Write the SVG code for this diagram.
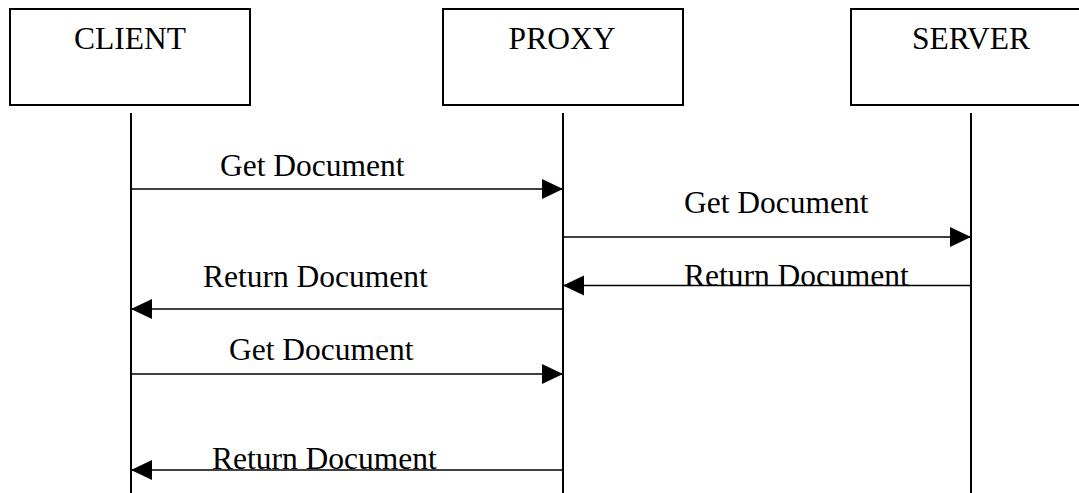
<svg xmlns="http://www.w3.org/2000/svg" width="1079" height="493" viewBox="0 0 1079 493">
  <style>
    .box { fill: #ffffff; stroke: #000000; stroke-width: 2; }
    .label { font-family: "Liberation Serif", "Times New Roman", serif; font-size: 31.5px; fill: #000000; }
    .life { stroke: #000000; stroke-width: 2; fill: none; }
    .msg { stroke: #000000; stroke-width: 1.6; fill: none; marker-end: url(#head); }
  </style>
  <defs>
    <marker id="head" markerUnits="userSpaceOnUse" markerWidth="22" markerHeight="22" refX="21" refY="10" orient="auto">
      <path d="M0,0 L21,10 L0,20 Z" fill="#000000"/>
    </marker>
  </defs>
  <rect width="1079" height="493" fill="#ffffff"/>

  <!-- participants -->
  <g id="client">
    <rect class="box" x="10" y="9" width="240" height="96"/>
    <text class="label" x="130" y="49" text-anchor="middle">CLIENT</text>
    <line class="life" x1="131" y1="113" x2="131" y2="493"/>
  </g>
  <g id="proxy">
    <rect class="box" x="443" y="9" width="240" height="96"/>
    <text class="label" x="562" y="49" text-anchor="middle">PROXY</text>
    <line class="life" x1="563" y1="113" x2="563" y2="493"/>
  </g>
  <g id="server">
    <rect class="box" x="851" y="9" width="240" height="96"/>
    <text class="label" x="971" y="49" text-anchor="middle">SERVER</text>
    <line class="life" x1="971" y1="113" x2="971" y2="493"/>
  </g>

  <!-- messages -->
  <g id="connectors">
    <line class="msg" x1="131" y1="189" x2="563" y2="189"/>
    <line class="msg" x1="563" y1="237" x2="971" y2="237"/>
    <line class="msg" x1="971" y1="285.5" x2="563" y2="285.5"/>
    <line class="msg" x1="563" y1="309" x2="131" y2="309"/>
    <line class="msg" x1="131" y1="374" x2="563" y2="374"/>
    <line class="msg" x1="563" y1="470" x2="131" y2="470"/>
  </g>

  <g id="labels">
    <text class="label" x="220" y="176">Get Document</text>
    <text class="label" x="684" y="213">Get Document</text>
    <text class="label" x="684" y="286">Return Document</text>
    <text class="label" x="203" y="287">Return Document</text>
    <text class="label" x="229" y="360">Get Document</text>
    <text class="label" x="212" y="469">Return Document</text>
  </g>
</svg>
